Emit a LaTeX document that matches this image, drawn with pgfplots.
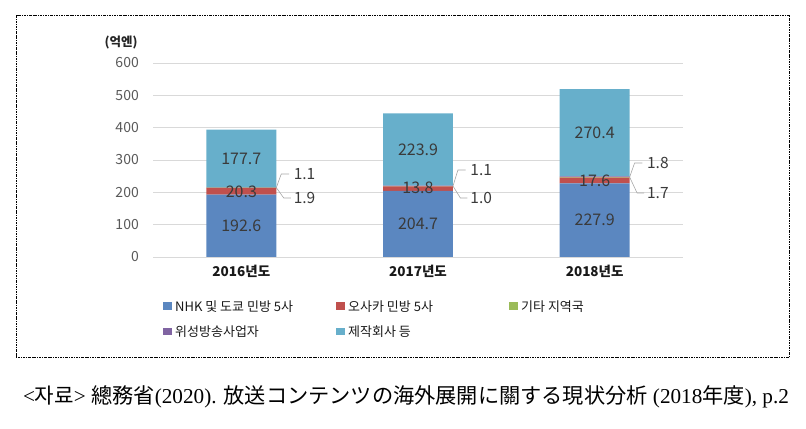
\documentclass[border=0pt]{standalone}
\usepackage{fontspec}
\setmainfont{Noto Sans CJK KR}
\newfontfamily\jp{Noto Sans CJK JP}
\newfontfamily\ser{Liberation Serif}
\usepackage{graphicx}
\usepackage{pgfplots}
\pgfplotsset{compat=1.18}
\definecolor{cblue}{HTML}{5B87C0}
\definecolor{cred}{HTML}{C0504D}
\definecolor{cgreen}{HTML}{9BBB59}
\definecolor{cpurple}{HTML}{8064A2}
\definecolor{ccyan}{HTML}{67AFCB}
\definecolor{gridgray}{HTML}{D9D9D9}
\definecolor{tickgray}{HTML}{595959}
\definecolor{labgray}{HTML}{3A3A3A}
\definecolor{leadgray}{HTML}{A6A6A6}
\tikzset{
  seglab/.style={font=\fontsize{16bp}{18bp}\selectfont, text=labgray},
  calab/.style={font=\fontsize{15.5bp}{18bp}\selectfont, text=labgray, anchor=west, inner sep=1bp},
  lead/.style={leadgray, line width=0.6bp}
}
\newcommand\legtxt[1]{\hspace{1.5bp}\makebox[146bp][l]{#1}}
\begin{document}
\begin{tikzpicture}
\path[use as bounding box] (0,0) rectangle (806bp,429bp);
\draw[line width=0.7bp, dash pattern=on 2.5bp off 1bp on 0.8bp off 1bp] (16bp,72bp) rectangle (789bp,414bp);
\node[font=\fontsize{12.5bp}{14bp}\selectfont\bfseries, text=black!85] at (121bp,386bp) {(억엔)};
\begin{axis}[
  at={(153bp,172bp)}, anchor=south west,
  scale only axis, width=530bp, height=194bp,
  xmin=-0.5, xmax=2.5, ymin=0, ymax=600,
  ybar stacked, bar width=0.396,
  axis line style={draw=none},
  major tick length=0pt,
  ytick={0,100,...,600},
  ymajorgrids, grid style={gridgray, line width=0.9bp},
  xtick={0,1,2},
  xticklabels={2016년도,2017년도,2018년도},
  /pgf/number format/assume math mode=true,
  yticklabel style={font=\fontsize{14bp}{16bp}\selectfont, text=tickgray, anchor=east, inner sep=0pt, xshift=-14bp},
  xticklabel style={font=\fontsize{13.5bp}{16bp}\selectfont\bfseries, text=black!90, anchor=north, inner sep=0pt, yshift=-8bp},
  legend columns=3,
  legend cell align=left,
  legend style={at={(axis description cs:0.0189,-0.212)}, anchor=north west, draw=none, fill=none,
    inner sep=0pt, font=\fontsize{13bp}{15bp}\selectfont, text=black!90,
    row sep=9bp,
    /tikz/every even column/.append style={column sep=13bp}},
]
\addplot[fill=cblue, draw=none, legend image code/.code={\fill[cblue] (0bp,-3.5bp) rectangle (8.5bp,4bp);}] coordinates {(0,192.6) (1,204.7) (2,227.9)};
\addplot[fill=cred, draw=none, legend image code/.code={\fill[cred] (0bp,-3.5bp) rectangle (8.5bp,4bp);}] coordinates {(0,20.3) (1,13.8) (2,17.6)};
\addplot[fill=cgreen, draw=none, legend image code/.code={\fill[cgreen] (0bp,-3.5bp) rectangle (8.5bp,4bp);}] coordinates {(0,1.9) (1,1.0) (2,1.7)};
\addplot[fill=cpurple, draw=none, legend image code/.code={\fill[cpurple] (0bp,-3.5bp) rectangle (8.5bp,4bp);}] coordinates {(0,1.1) (1,1.1) (2,1.8)};
\addplot[fill=ccyan, draw=none, legend image code/.code={\fill[ccyan] (0bp,-3.5bp) rectangle (8.5bp,4bp);}] coordinates {(0,177.7) (1,223.9) (2,270.4)};
\legend{\legtxt{NHK 및 도쿄 민방 5사},\legtxt{오사카 민방 5사},\legtxt{기타 지역국},\legtxt{위성방송사업자},\legtxt{제작회사 등}}
\coordinate (b0) at (axis cs:0,96.3);
\coordinate (b1) at (axis cs:1,102.35);
\coordinate (b2) at (axis cs:2,113.95);
\coordinate (r0) at (axis cs:0,202.75);
\coordinate (r1) at (axis cs:1,213.55);
\coordinate (r2) at (axis cs:2,236.7);
\coordinate (c0) at (axis cs:0,304.75);
\coordinate (c1) at (axis cs:1,332.55);
\coordinate (c2) at (axis cs:2,384.2);
\draw[lead] (axis cs:0.198,214.5) -- (axis cs:0.226,256.7) -- (axis cs:0.27,256.7);
\draw[lead] (axis cs:0.198,214.5) -- (axis cs:0.24,182.5) -- (axis cs:0.28,182.5);
\node[calab] at (axis cs:0.29,256.7) {1.1};
\node[calab] at (axis cs:0.29,182.5) {1.9};
\draw[lead] (axis cs:1.198,219.5) -- (axis cs:1.226,269) -- (axis cs:1.27,269);
\draw[lead] (axis cs:1.198,219.5) -- (axis cs:1.24,182.5) -- (axis cs:1.28,182.5);
\node[calab] at (axis cs:1.29,269) {1.1};
\node[calab] at (axis cs:1.29,182.5) {1.0};
\draw[lead] (axis cs:2.198,247.2) -- (axis cs:2.226,290.7) -- (axis cs:2.27,290.7);
\draw[lead] (axis cs:2.198,247.2) -- (axis cs:2.24,198) -- (axis cs:2.28,198);
\node[calab] at (axis cs:2.29,290.7) {1.8};
\node[calab] at (axis cs:2.29,198) {1.7};
\end{axis}
\node[seglab] at (b0) {192.6};
\node[seglab] at (b1) {204.7};
\node[seglab] at (b2) {227.9};
\node[seglab] at (r0) {20.3};
\node[seglab] at (r1) {13.8};
\node[seglab] at (r2) {17.6};
\node[seglab] at (c0) {177.7};
\node[seglab] at (c1) {223.9};
\node[seglab] at (c2) {270.4};
\node at (406bp,32bp) {\resizebox{766bp}{!}{\fontsize{20bp}{24bp}\selectfont{\ser <}{\jp 자료}{\ser > }{\jp 總務省}{\ser (2020). }{\jp 放送コンテンツの海外展開に關する現状分析}{\ser\ (2018}{\jp 年度}{\ser ), p.2}}};
\end{tikzpicture}
\end{document}
